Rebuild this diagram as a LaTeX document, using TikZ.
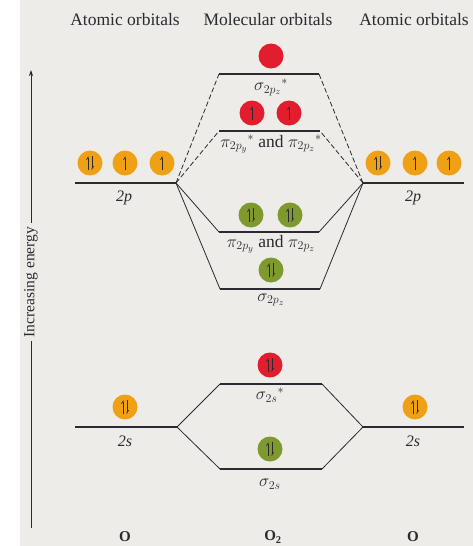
\documentclass[tikz,border=0pt]{standalone}
\usepackage{fontspec}
\setmainfont{Liberation Serif}
\usetikzlibrary{arrows.meta}
\definecolor{paper}{HTML}{EDECE8}
\definecolor{ink}{HTML}{2A2A30}
\definecolor{orb2s}{HTML}{EFA015}
\definecolor{antib}{HTML}{E21D2D}
\definecolor{bond}{HTML}{7E9A2E}
\tikzset{
  level/.style={draw=ink, line width=1.2pt},
  corr/.style={draw=ink, line width=0.8pt},
  corrdash/.style={corr, dash pattern=on 5pt off 2.5pt},
  elec/.style={draw=ink, line width=0.7pt, -{Straight Barb[left,length=2.5pt,width=3pt]}},
  orb/.style={circle, minimum size=25pt, inner sep=0pt},
  pairorb/.style={orb, path picture={
      \draw[elec] ([shift={(-2pt,-7pt)}]path picture bounding box.center) -- ++(0,14pt);
      \draw[elec] ([shift={(2pt,7pt)}]path picture bounding box.center) -- ++(0,-14pt);}},
  oneorb/.style={orb, path picture={
      \draw[elec] ([shift={(0pt,-7pt)}]path picture bounding box.center) -- ++(0,14pt);}},
  head/.style={font=\fontsize{17.5}{19}\selectfont, text=ink},
  lab/.style={font=\fontsize{16}{18}\selectfont, text=ink, inner sep=1pt},
  molab/.style={font=\fontsize{17.5}{19}\selectfont, text=ink, inner sep=1pt},
}
\begin{document}
\begin{tikzpicture}[x=1pt, y=-1pt]
\useasboundingbox (0,0) rectangle (473,546);
\fill[paper] (20,0) rectangle (473,546);

% column headings
\node[head] (hA) at (125,20) {Atomic orbitals};
\node[head] (hM) at (268,20) {Molecular orbitals};
\node[head] (hB) at (414,20) {Atomic orbitals};

% energy axis
\coordinate (axtop) at (31,70);
\coordinate (axbot) at (31,528);
\node[lab, rotate=90, font=\fontsize{15.5}{17}\selectfont, inner sep=4pt] (axlab) at (31,282) {Increasing energy};
\draw[ink, line width=0.8pt] (axbot) -- (axlab.west);
\draw[ink, line width=0.8pt, -{Stealth[length=6pt,width=4pt]}] (axlab.east) -- (axtop);

% energy levels
\coordinate (pLa) at (75,183);  \coordinate (pLb) at (176,183);
\coordinate (pRa) at (363,183); \coordinate (pRb) at (464,183);
\coordinate (sLa) at (75,427);  \coordinate (sLb) at (177,427);
\coordinate (sRa) at (363,427); \coordinate (sRb) at (464,427);
\coordinate (ssa) at (219,74);  \coordinate (ssb) at (319,74);
\coordinate (ppsa) at (219,131); \coordinate (ppsb) at (320,131);
\coordinate (ppa) at (219,232); \coordinate (ppb) at (319,232);
\coordinate (spa) at (220,289); \coordinate (spb) at (320,289);
\coordinate (s2sa) at (220,384); \coordinate (s2sb) at (322,384);
\coordinate (s2a) at (220,469); \coordinate (s2b) at (322,469);

\foreach \a/\b in {pLa/pLb, pRa/pRb, sLa/sLb, sRa/sRb, ssa/ssb, ppsa/ppsb, ppa/ppb, spa/spb, s2sa/s2sb, s2a/s2b}
  \draw[level] (\a) -- (\b);

% correlation lines
\draw[corrdash] (pLb) -- (ssa);
\draw[corrdash] (pLb) -- (ppsa);
\draw[corrdash] (pRa) -- (ssb);
\draw[corrdash] (pRa) -- (ppsb);
\draw[corr] (pLb) -- (ppa);
\draw[corr] (pLb) -- (spa);
\draw[corr] (pRa) -- (ppb);
\draw[corr] (pRa) -- (spb);
\draw[corr] (sLb) -- (s2sa);
\draw[corr] (sLb) -- (s2a);
\draw[corr] (sRa) -- (s2sb);
\draw[corr] (sRa) -- (s2b);

% electrons: atomic 2p
\node[pairorb, fill=orb2s] (pL1) at (90,163) {};
\node[oneorb, fill=orb2s] (pL2) at (125,163) {};
\node[oneorb, fill=orb2s] (pL3) at (162,163) {};
\node[pairorb, fill=orb2s] (pR1) at (378,163) {};
\node[oneorb, fill=orb2s] (pR2) at (415,163) {};
\node[oneorb, fill=orb2s] (pR3) at (449,163) {};
% electrons: atomic 2s
\node[pairorb, fill=orb2s] (sL1) at (125,407) {};
\node[pairorb, fill=orb2s] (sR1) at (415,407) {};
% molecular orbitals
\node[orb, fill=antib] (ss1) at (271,56) {};
\node[oneorb, fill=antib] (pps1) at (252,113) {};
\node[oneorb, fill=antib] (pps2) at (289,113) {};
\node[pairorb, fill=bond] (pp1) at (251,215) {};
\node[pairorb, fill=bond] (pp2) at (290,215) {};
\node[pairorb, fill=bond] (sp1) at (271,270) {};
\node[pairorb, fill=antib] (s2s1) at (270,365) {};
\node[pairorb, fill=bond] (s21) at (270,449) {};

% level labels
\node[lab] (l2pL) at (124,198) {\itshape 2p};
\node[lab] (l2pR) at (413,198) {\itshape 2p};
\node[lab] (l2sL) at (125,441) {\itshape 2s};
\node[lab] (l2sR) at (413,441) {\itshape 2s};
\node[molab] (lss) at (271,87) {$\sigma_{2p_z}{}^{*}$};
\node[molab] (lpps) at (271,144) {$\pi_{2p_y}{}^{*}$ and $\pi_{2p_z}{}^{*}$};
\node[molab] (lpp) at (271,244) {$\pi_{2p_y}$ and $\pi_{2p_z}$};
\node[molab] (lsp) at (271,300) {$\sigma_{2p_z}$};
\node[molab] (ls2s) at (270,395) {$\sigma_{2s}{}^{*}$};
\node[molab] (ls2) at (270,484) {$\sigma_{2s}$};

% species
\node[lab, font=\bfseries\fontsize{15}{17}\selectfont] (oA) at (125,537) {O};
\node[lab, font=\bfseries\fontsize{15}{17}\selectfont] (o2) at (273,537) {O$_\mathbf{2}$};
\node[lab, font=\bfseries\fontsize{15}{17}\selectfont] (oB) at (413,537) {O};
\end{tikzpicture}
\end{document}
